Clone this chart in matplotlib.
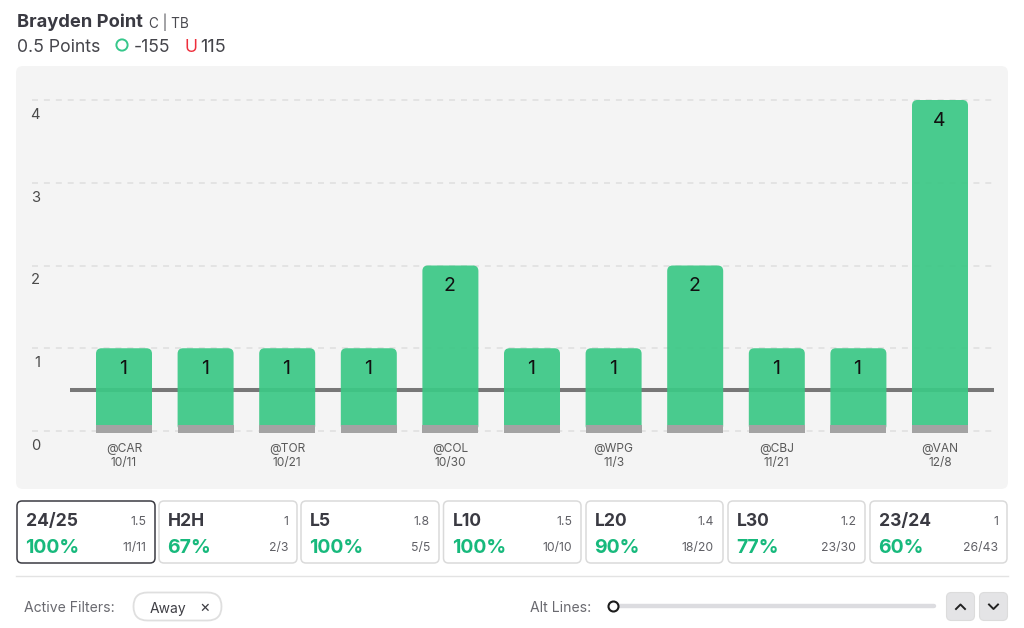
import matplotlib
matplotlib.use("Agg")
import matplotlib.pyplot as plt
from matplotlib.patches import FancyBboxPatch, Circle
from matplotlib.transforms import ScaledTranslation

plt.rcParams['font.family'] = ['Inter', 'DejaVu Sans']

# ---- data ----
values = [1, 1, 1, 1, 2, 1, 1, 2, 1, 1, 4]
opponents = ['@CAR', '', '@TOR', '', '@COL', '', '@WPG', '', '@CBJ', '', '@VAN']
dates = ['10/11', '', '10/21', '', '10/30', '', '11/3', '', '11/21', '', '12/8']
y_ticks = [0, 1, 2, 3, 4]
prop_line = 0.5
card_names = ['24/25', 'H2H', 'L5', 'L10', 'L20', 'L30', '23/24']
card_avgs = ['1.5', '1', '1.8', '1.5', '1.4', '1.2', '1']
card_pcts = ['100%', '67%', '100%', '100%', '90%', '77%', '60%']
card_fracs = ['11/11', '2/3', '5/5', '10/10', '18/20', '23/30', '26/43']

W, H = 1024, 628
GREEN = '#3cc886'
TXT = '#3b3b42'
fig = plt.figure(figsize=(W / 100, H / 100), dpi=100, facecolor='white')

# ---- page layer in pixel coordinates ----
ui = fig.add_axes([0, 0, 1, 1], zorder=0)
ui.set_xlim(0, W)
ui.set_ylim(H, 0)
ui.axis('off')

def rbox(x0, y0, x1, y1, r, **kw):
    p = FancyBboxPatch((x0 + r, y0 + r), x1 - x0 - 2 * r, y1 - y0 - 2 * r,
                       boxstyle=f'round,pad={r},rounding_size={r}', **kw)
    ui.add_patch(p)
    return p

def t(x, y, s, size, color=TXT, weight='normal', ha='left'):
    return ui.text(x, y, s, fontsize=size, color=color, fontweight=weight,
                   ha=ha, va='center_baseline')

# header
t(17, 20, 'Brayden Point', 13.2, '#3a3a42', 'bold')
t(149, 20.5, 'C | TB', 9.8, '#4a4a50')
t(17, 46, '0.5 Points', 12.7, '#45454b')
ui.add_patch(Circle((122, 45), 5.6, fc='none', ec='#36c78b', lw=1.4))
t(134, 46, '-155', 12.6, '#45454b')
t(184, 46, 'U', 12.6, '#ee2f3c')
t(200, 46, '115', 13, '#45454b')

# chart panel
rbox(16, 66, 1008, 489, 7, fc='#f4f4f4', ec='none')

# cards
card_x = [(17, 155), (159, 297), (301, 439), (443.5, 581), (586, 723), (728, 865), (870, 1007)]
for i, (x0, x1) in enumerate(card_x):
    active = i == 0
    rbox(x0, 501, x1, 563, 5, fc='white',
         ec='#3b3b42' if active else '#dadada', lw=1.1)
    t(x0 + 9, 520, card_names[i], 12.6, '#3a3a42', 'bold')
    t(x0 + 8.5, 546, card_pcts[i], 14, '#17b97c', 'bold')
    t(x1 - 9, 520.5, card_avgs[i], 8.8, '#606066', ha='right')
    t(x1 - 9, 547, card_fracs[i], 8.8, '#606066', ha='right')

ui.plot([16, 1008], [575.5, 575.5], color='#e3e3e3', lw=1)

# filters
t(24, 607, 'Active Filters:', 10.1, '#6a6a70')
rbox(133.5, 592.5, 221.5, 620.5, 14, fc='white', ec='#dfdfdf', lw=1.3)
t(149.5, 607, 'Away', 10, '#3f3f45')
t(205, 606, '×', 11.5, '#3f3f45', ha='center')

# slider
t(530, 607, 'Alt Lines:', 10.1, '#6a6a70')
ui.plot([614, 934], [606, 606], color='#dcdce0', lw=3.2, solid_capstyle='round')
ui.add_patch(Circle((613.5, 606.5), 5, fc='white', ec='#1c1c1c', lw=1.5, zorder=5))

# arrows
rbox(946.5, 592.5, 974.5, 620.5, 5, fc='#e4e4e6', ec='#dcdcdc', lw=0.8)
rbox(979.5, 592.5, 1007.5, 620.5, 5, fc='#e4e4e6', ec='#dcdcdc', lw=0.8)
ui.plot([956, 960.5, 965], [609, 604.5, 609], color='#222222', lw=1.4)
ui.plot([989, 993.5, 998], [604.5, 609, 604.5], color='#222222', lw=1.4)

# ---- chart, placed so data units land on the reference pixels ----
L, R, T, B = 32, 995, 90, 440
px_x, px_y = 81.6, 82.75
x0_px, y0_px = 124, 431
ax = fig.add_axes([L / W, 1 - B / H, (R - L) / W, (B - T) / H], zorder=1)
ax.patch.set_alpha(0)
ax.set_xlim((L - x0_px) / px_x, (R - x0_px) / px_x)
ax.set_ylim((y0_px - B) / px_y, (y0_px - T) / px_y)
for s in ax.spines.values():
    s.set_visible(False)

xs = list(range(len(values)))
ax.set_yticks(y_ticks)
ax.set_yticklabels([str(v) for v in y_ticks], fontsize=10.6, color='#4a4a4a', va='top')
ax.tick_params(axis='y', length=0, pad=-5.8)
# the reference hangs its y labels below their gridlines
drop = ScaledTranslation(0, -8 / 100, fig.dpi_scale_trans)
for tick in ax.yaxis.get_major_ticks():
    tick.label1.set_transform(tick.label1.get_transform() + drop)
ax.set_xticks(xs)
ax.set_xticklabels([f'{o}\n{d}' if o else '' for o, d in zip(opponents, dates)],
                   fontsize=8.6, color='#5a5a5a', linespacing=1.2)
ax.tick_params(axis='x', length=0, pad=2)

ax.grid(axis='y', color='#dedede', lw=1.1, linestyle=(0, (3.9, 3.9)), zorder=1)
ax.set_axisbelow(True)

bw = 56 / px_x
# the threshold line starts a little left of the first bar
ax.plot([(70 - x0_px) / px_x, (994 - x0_px) / px_x], [prop_line, prop_line],
        color='#777777', lw=2.9, solid_capstyle='butt', zorder=2)

# bars set the geometry; each is painted as a round-cornered patch of that size
bars = ax.bar(xs, values, width=bw, color='none', zorder=3)
r = 5.5 / px_x
ry = 5.5 / px_y
for bar in bars:
    ax.add_patch(FancyBboxPatch((bar.get_x() + r, ry), bar.get_width() - 2 * r, bar.get_height() - 2 * ry,
                                boxstyle=f'round,pad={r},rounding_size={r}',
                                mutation_aspect=px_x / px_y, fc=GREEN, ec='none',
                                alpha=0.93, zorder=3))

# grey base strip at the foot of each bar
ax.bar(xs, [8 / px_y] * len(xs), bottom=-2 / px_y, width=bw, color='#a3a3a3', zorder=4)

for x, v in zip(xs, values):
    ax.annotate(str(v), (x, v), xytext=(-1, -20.5), textcoords='offset pixels',
                ha='center', va='center', fontsize=14, color='#111111', zorder=5)

fig.savefig('out.png', dpi=100)
